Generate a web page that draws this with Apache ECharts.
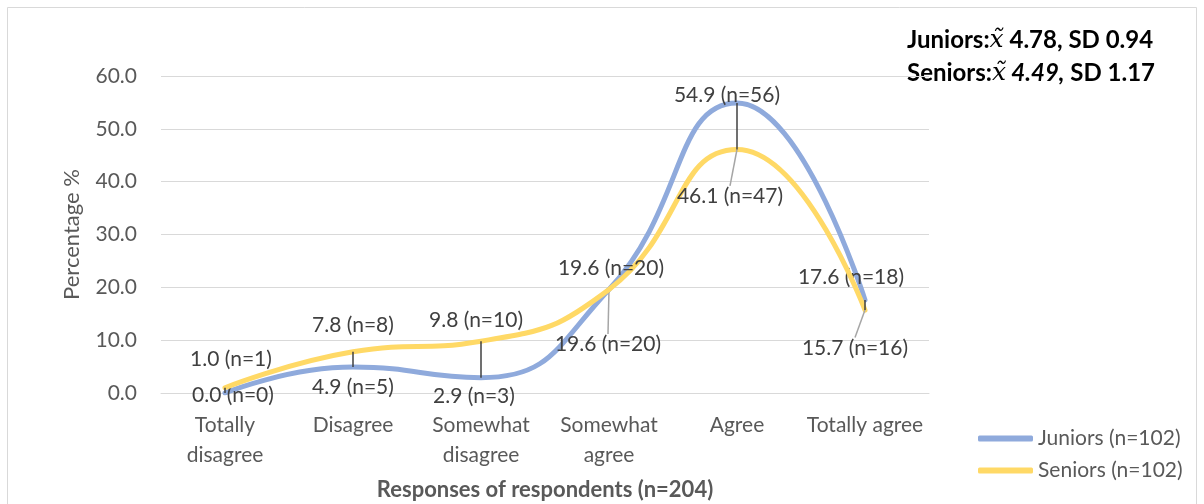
<!DOCTYPE html>
<html>
<head>
<meta charset="utf-8">
<script src="https://cdn.jsdelivr.net/npm/echarts@6/dist/echarts.min.js"></script>
<style>
  html, body { margin: 0; padding: 0; background: #fff; }
  #chart { width: 1204px; height: 504px; }
</style>
</head>
<body>
<div id="chart"></div>
<script>
// Response categories (x axis)
const categories = ['Totally\ndisagree', 'Disagree', 'Somewhat\ndisagree', 'Somewhat\nagree', 'Agree', 'Totally agree'];
// Percentages per group
const juniors = [0.0, 4.9, 2.9, 19.6, 54.9, 17.6];
const seniors = [1.0, 7.8, 9.8, 19.6, 46.1, 15.7];
// Respondent counts per group
const juniorsN = [0, 5, 3, 20, 56, 18];
const seniorsN = [1, 8, 10, 20, 47, 16];
// Y axis ticks
const yMin = 0, yMax = 60, yStep = 10;

const FONT = 'Lato';
const FS = 21;
const labelColor = '#404040';
const axisColor = '#595959';

// Label offsets (px) from each point, and whether a guide line is drawn
const juniorsLabelPos = [[8, 2, false], [0, 20, false], [-7, 19, false], [-1, 55, true], [-10, -8, false], [-14, -23, false]];
const seniorsLabelPos = [[6, -28, false], [0, -27, false], [-5, -21, false], [2, -21, false], [-7, 47, true], [-10, 38, true]];

function buildData(values, counts, pos) {
  return values.map((v, i) => ({
    value: v,
    n: counts[i],
    labelLine: { show: pos[i][2] }
  }));
}

const chart = echarts.init(document.getElementById('chart'));

function layoutFor(pos) {
  return function (params) {
    const p = pos[params.dataIndex];
    return { dx: p[0], dy: p[1] };
  };
}

const labelCommon = {
  show: true,
  position: 'inside',
  color: labelColor,
  fontFamily: FONT,
  fontSize: FS,
  formatter: function (p) { return p.value.toFixed(1) + ' (n=' + p.data.n + ')'; }
};

chart.setOption({
  animation: false,
  backgroundColor: '#fff',
  textStyle: { fontFamily: FONT },
  grid: { left: 161, right: 275, top: 76, bottom: 111, containLabel: false, outerBoundsMode: 'none' },
  graphic: [
    {
      type: 'rect',
      shape: { x: 7.5, y: 7.5, width: 1189, height: 520 },
      style: { fill: 'none', stroke: '#d9d9d9', lineWidth: 1 },
      silent: true
    },
    {
      type: 'text',
      left: 907,
      top: 28,
      style: {
        text: '{b|Juniors:}{m|x\u0303}{b| 4.78, SD 0.94}\n{b|Seniors:}{m|x\u0303}{bi| 4.49,}{b| SD 1.17}',
        rich: {
          b: { fontFamily: FONT, fontWeight: 'bold', fontSize: 24, fill: '#000', lineHeight: 33 },
          bi: { fontFamily: FONT, fontWeight: 'bold', fontStyle: 'italic', fontSize: 24, fill: '#000', lineHeight: 33 },
          m: { fontFamily: 'DejaVu Serif', fontStyle: 'italic', fontSize: 25, fill: '#000', lineHeight: 33 }
        }
      }
    }
  ],
  legend: {
    orient: 'vertical',
    left: 973,
    top: 423,
    itemWidth: 55,
    itemHeight: 6,
    itemGap: 11,
    icon: 'roundRect',
    data: ['Juniors (n=102)', 'Seniors (n=102)'],
    textStyle: { color: axisColor, fontFamily: FONT, fontSize: FS }
  },
  xAxis: {
    type: 'category',
    data: categories,
    boundaryGap: true,
    axisLine: { lineStyle: { color: '#d9d9d9', width: 1 } },
    axisTick: { show: false },
    axisLabel: { color: axisColor, fontFamily: FONT, fontSize: FS, lineHeight: 30, margin: 17, interval: 0 },
    name: 'Responses of respondents (n=204)',
    nameLocation: 'middle',
    nameGap: 86,
    nameTextStyle: { color: axisColor, fontFamily: FONT, fontSize: 22, fontWeight: 'bold' }
  },
  yAxis: {
    type: 'value',
    min: yMin,
    max: yMax,
    interval: yStep,
    axisLine: { show: false },
    axisTick: { show: false },
    splitLine: { lineStyle: { color: '#d9d9d9', width: 1 } },
    axisLabel: { color: axisColor, fontFamily: FONT, fontSize: FS, margin: 24, formatter: v => v.toFixed(1) },
    name: 'Percentage %',
    nameLocation: 'middle',
    nameGap: 78,
    nameTextStyle: { color: axisColor, fontFamily: FONT, fontSize: 22 }
  },
  series: [
    {
      name: 'Juniors (n=102)',
      type: 'line',
      smooth: 0.5,
      data: buildData(juniors, juniorsN, juniorsLabelPos),
      symbol: 'circle',
      symbolSize: 0.1,
      color: '#8faadc',
      lineStyle: { color: '#8faadc', width: 5, cap: 'round' },
      label: labelCommon,
      labelLayout: layoutFor(juniorsLabelPos),
      labelLine: { show: false, lineStyle: { color: '#a6a6a6', width: 1.5 } },
      z: 2
    },
    {
      name: 'Seniors (n=102)',
      type: 'line',
      smooth: 0.5,
      data: buildData(seniors, seniorsN, seniorsLabelPos),
      symbol: 'circle',
      symbolSize: 0.1,
      color: '#ffd966',
      lineStyle: { color: '#ffd966', width: 5, cap: 'round' },
      label: labelCommon,
      labelLayout: layoutFor(seniorsLabelPos),
      labelLine: { show: false, lineStyle: { color: '#a6a6a6', width: 1.5 } },
      z: 3
    },
    {
      // dark connectors between the two groups at each category
      name: 'connector',
      type: 'custom',
      data: categories.map((c, i) => [i, juniors[i], seniors[i]]),
      renderItem: function (params, api) {
        const a = api.coord([api.value(0), api.value(1)]);
        const b = api.coord([api.value(0), api.value(2)]);
        return {
          type: 'line',
          shape: { x1: a[0], y1: a[1], x2: b[0], y2: b[1] },
          style: { stroke: '#404040', lineWidth: 1.5 }
        };
      },
      silent: true,
      z: 4
    }
  ]
});
</script>
</body>
</html>
